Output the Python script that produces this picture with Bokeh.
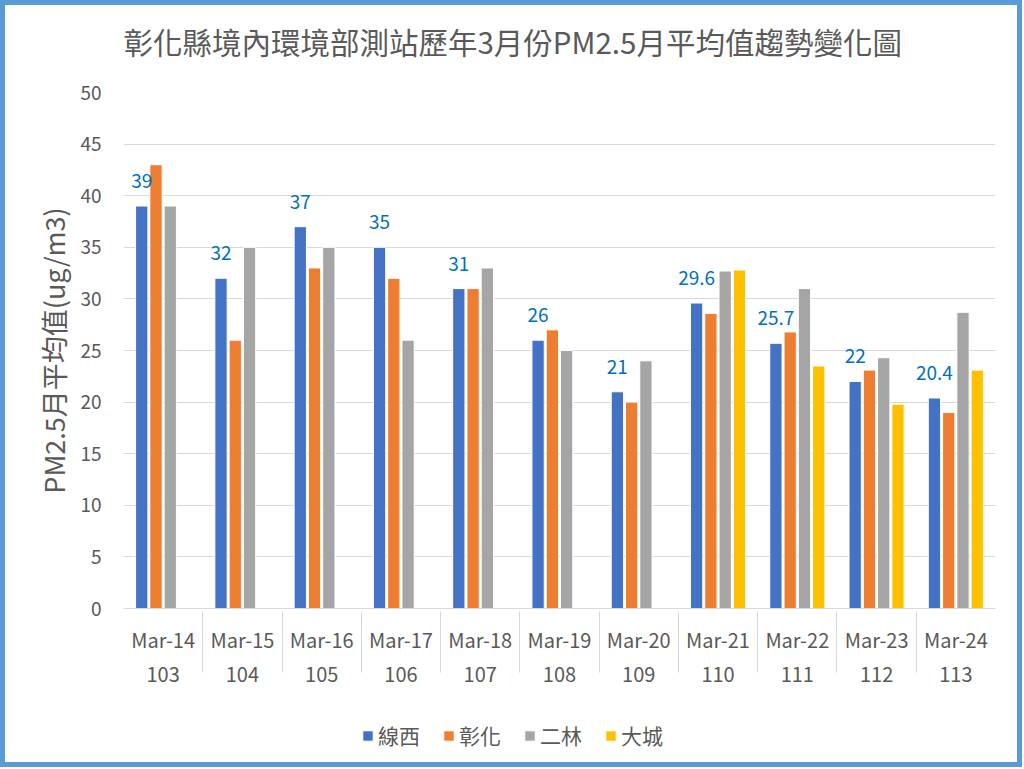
from bokeh.plotting import figure
from bokeh.models import (FactorRange, ColumnDataSource, LabelSet, Label, FixedTicker, Legend,
                          LegendItem)
from bokeh.layouts import column
from bokeh.core.properties import value
from bokeh.transform import dodge
from bokeh.embed import file_html
from bokeh.resources import INLINE

title_text = "彰化縣境內環境部測站歷年3月份PM2.5月平均值趨勢變化圖"
months = ["Mar-14", "Mar-15", "Mar-16", "Mar-17", "Mar-18", "Mar-19",
          "Mar-20", "Mar-21", "Mar-22", "Mar-23", "Mar-24"]
years = ["103", "104", "105", "106", "107", "108", "109", "110", "111", "112", "113"]
xianxi = [39, 32, 37, 35, 31, 26, 21, 29.6, 25.7, 22, 20.4]
changhua = [43, 26, 33, 32, 31, 27, 20, 28.6, 26.8, 23.1, 19.0]
erlin = [39, 35, 35, 26, 33, 25, 24, 32.7, 31.0, 24.3, 28.7]
dacheng = [None, None, None, None, None, None, None, 32.8, 23.5, 19.8, 23.1]
series_names = ["線西", "彰化", "二林", "大城"]
colors = ["#4472C4", "#ED7D31", "#A5A5A5", "#FFC000"]

FONT = "Noto Sans CJK TC"
GRAY = "#595959"

factors = [(y, m) for y, m in zip(years, months)]
src = ColumnDataSource(dict(
    x=factors,
    s0=xianxi, s1=changhua, s2=erlin,
    s3=[float("nan") if v is None else v for v in dacheng],
    lbl=[str(v) for v in xianxi],
))

# ---- title strip (its frame is aligned with the chart frame by the column) ----
p0 = figure(width=1012, height=70, output_backend="svg", toolbar_location=None,
            x_range=(0, 1), y_range=(0, 1), min_border=0)
p0.axis.visible = False
p0.grid.visible = False
p0.outline_line_color = None
p0.add_layout(Label(x=0, y=35, x_units="screen", y_units="screen", text=title_text,
                    text_font_size="29.5px", text_font=FONT, text_color=GRAY,
                    text_align="left", text_baseline="middle"))

# ---- main chart ----
p = figure(width=1012, height=625, output_backend="svg", toolbar_location=None,
           x_range=FactorRange(*factors, range_padding=0, group_padding=0),
           y_range=(0, 50),
           min_border_left=118, min_border_right=22, min_border_top=17,
           min_border_bottom=92)
p.outline_line_color = None

offsets = [-0.27, -0.09, 0.09, 0.27]
for i, col in enumerate(colors):
    p.vbar(x=dodge("x", offsets[i], range=p.x_range), top="s%d" % i, width=0.155,
           source=src, fill_color=col, line_color="white", line_width=1)

labels = LabelSet(x=dodge("x", offsets[0], range=p.x_range), y="s0", text="lbl", source=src,
                  text_align="center", text_baseline="middle", y_offset=25,
                  text_font_size="19px", text_color="#0070C0", text_font=value(FONT))
p.add_layout(labels)

p.yaxis.ticker = FixedTicker(ticks=list(range(0, 51, 5)))
p.yaxis.axis_line_color = None
p.yaxis.major_tick_line_color = None
p.yaxis.minor_tick_line_color = None
p.yaxis.major_label_text_font_size = "19px"
p.yaxis.major_label_text_color = GRAY
p.yaxis.major_label_text_font = FONT
p.yaxis.major_label_standoff = 16
p.yaxis.axis_label = "PM2.5月平均值(ug/m3)"
p.yaxis.axis_label_text_font_size = "27px"
p.yaxis.axis_label_text_font = FONT
p.yaxis.axis_label_text_font_style = "normal"
p.yaxis.axis_label_text_color = GRAY
p.yaxis.axis_label_standoff = 4

p.xaxis.axis_line_color = "#D9D9D9"
p.xaxis.major_tick_line_color = None
p.xaxis.minor_tick_line_color = None
p.xaxis.major_label_text_font_size = "20px"
p.xaxis.major_label_text_color = GRAY
p.xaxis.major_label_text_font = FONT
p.xaxis.group_text_font_size = "20px"
p.xaxis.group_text_color = GRAY
p.xaxis.group_text_font = FONT
p.xaxis.group_text_font_style = "normal"
p.xaxis.separator_line_color = "#D9D9D9"
p.xaxis.separator_line_width = 1
p.xaxis.major_label_standoff = 10

p.xgrid.grid_line_color = None
p.ygrid.grid_line_color = "#D9D9D9"
p.ygrid.grid_line_width = 1

# ---- legend strip (bars lie below its visible y range) ----
p2 = figure(width=1012, height=62, output_backend="svg", toolbar_location=None,
            x_range=FactorRange(*factors, range_padding=0, group_padding=0),
            y_range=(100, 101), min_border=0)
p2.axis.visible = False
p2.grid.visible = False
p2.outline_line_color = None
leg_rs = []
for i, col in enumerate(colors):
    leg_rs.append(p2.vbar(x=dodge("x", offsets[i], range=p2.x_range), top="s%d" % i,
                          width=0.155, source=src, fill_color=col, line_color="white",
                          line_width=1))
legend = Legend(items=[LegendItem(label=n, renderers=[r]) for n, r in zip(series_names, leg_rs)],
                orientation="horizontal", location=(238, 12),
                label_text_font_size="21px", label_text_color=GRAY, label_text_font=FONT,
                glyph_width=13, glyph_height=13, spacing=22, label_standoff=4,
                padding=6, margin=0, border_line_color=None, background_fill_alpha=0)
p2.add_layout(legend)

layout = column(p0, p, p2, spacing=0, styles={"border": "5px solid #5B9BD5"})

open("out.html", "w").write(file_html(layout, INLINE))
